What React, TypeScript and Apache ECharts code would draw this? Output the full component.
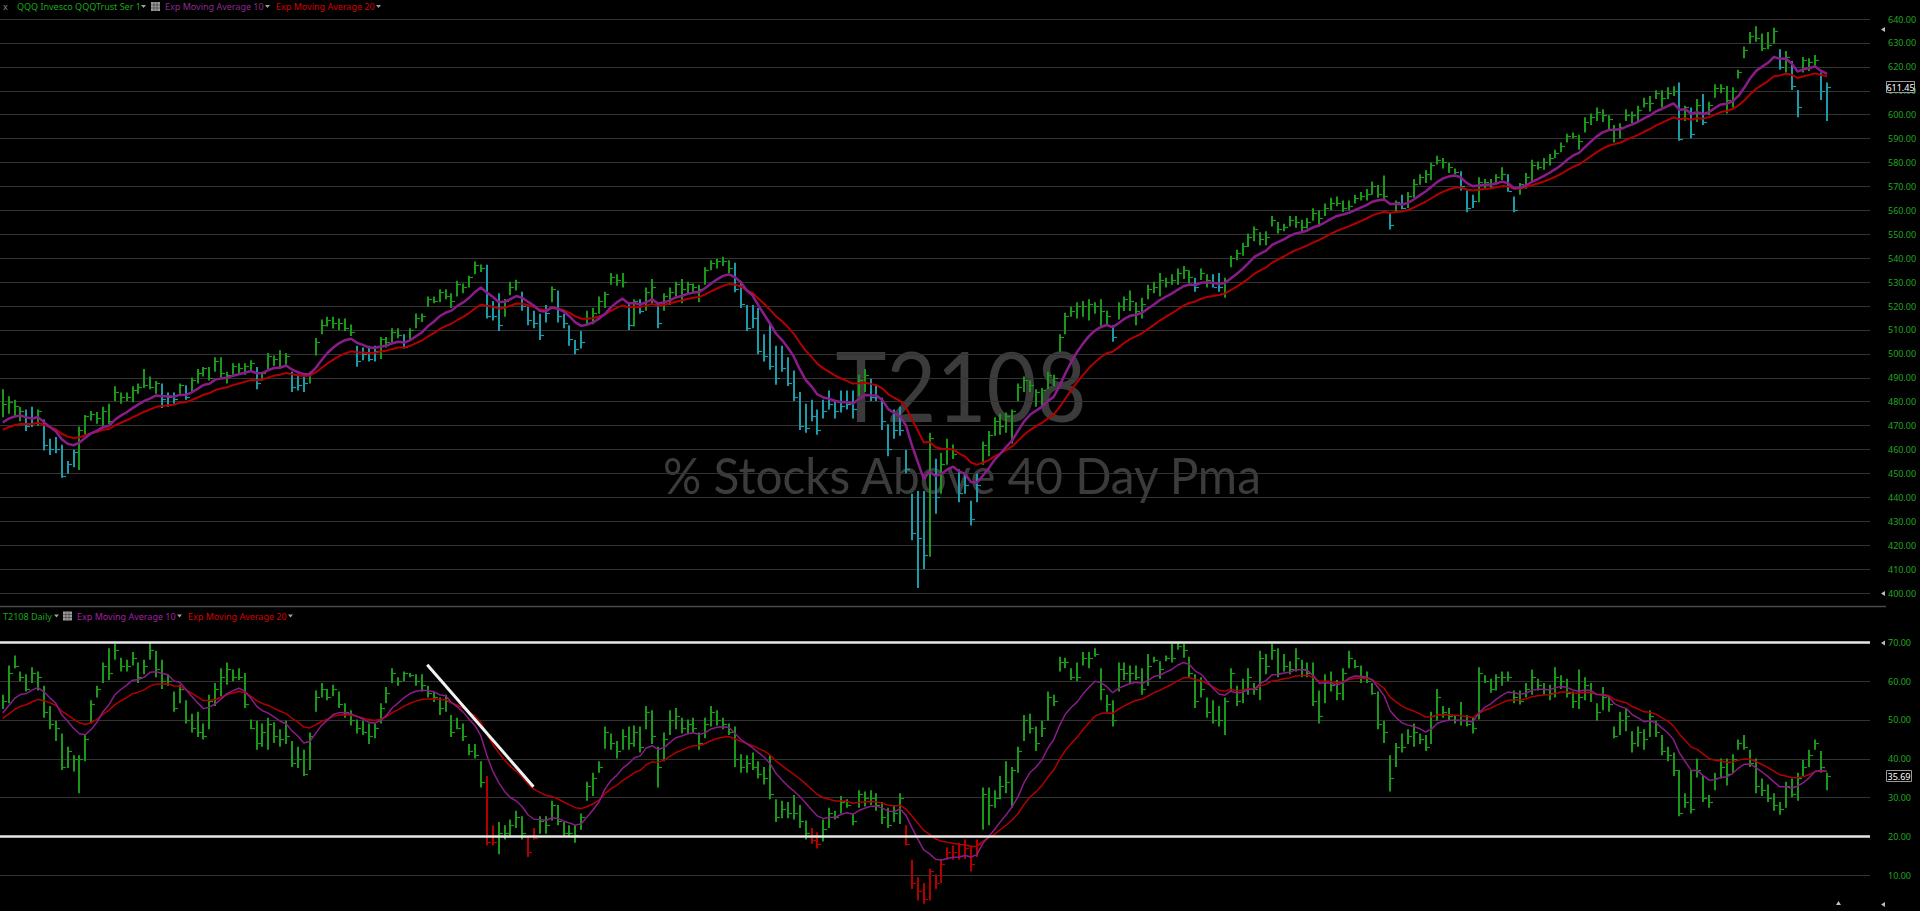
import React, { useEffect, useRef } from "react";
import * as echarts from "echarts";

// ---------- QQQ daily bars (high / low / close) ----------
const qqqHigh = [
  485.2,482.3,480.8,477.9,476.7,477.9,476.7,472.5,464.5,465.2,
  462.0,455.2,459.9,469.6,474.4,476.1,475.7,477.9,479.1,486.4,
  483.8,483.8,486.4,487.6,493.7,490.5,488.6,487.6,483.8,483.8,
  487.6,486.9,490.1,493.7,494.5,494.5,498.6,498.6,492.5,496.1,
  496.1,496.1,497.3,494.5,492.5,500.3,499.3,501.5,500.3,492.5,
  491.3,490.5,492.5,506.6,514.4,515.5,515.5,514.8,514.8,512.3,
  503.4,502.7,503.4,503.4,507.0,507.0,510.7,510.7,508.2,510.7,
  516.9,516.9,524.0,524.0,527.0,527.0,525.3,530.6,
  529.4,532.6,538.6,537.4,537.2,522.1,525.3,522.9,530.1,531.0,
  526.0,519.7,518.0,516.8,520.4,528.2,526.5,516.8,511.9,505.8,
  509.5,518.0,519.2,524.0,526.0,533.8,533.3,533.8,521.6,522.8,
  522.8,527.7,531.3,521.6,525.3,527.7,530.1,531.3,530.1,529.4,
  528.9,536.2,539.1,539.8,540.6,539.1,538.1,530.1,520.4,520.4,
  519.2,508.2,513.1,503.4,503.4,498.6,493.0,484.0,479.1,480.8,
  476.7,480.8,484.7,480.8,484.7,484.7,484.7,491.3,493.7,489.6,
  487.1,481.6,470.6,476.7,477.9,459.8,441.5,442.7,
  442.7,467.0,456.1,458.5,464.5,462.1,451.7,450.0,438.6,450.0,
  463.3,467.7,473.5,475.0,475.5,476.7,487.6,490.5,488.9,485.2,
  485.7,492.5,491.3,508.2,517.2,519.7,521.6,522.1,522.8,521.6,
  522.8,518.0,511.9,521.6,524.0,526.5,521.6,523.5,528.9,530.1,
  533.8,531.8,533.3,535.7,536.7,535.0,531.8,535.7,533.3,533.3,
  533.8,531.8,541.0,543.5,546.4,550.3,553.2,550.8,551.3,557.6,
  555.1,554.4,557.6,557.6,556.1,556.8,560.9,560.0,562.9,565.3,
  565.8,564.1,564.1,566.5,567.7,568.9,572.1,570.6,
  574.6,559.2,564.1,566.5,567.7,573.1,575.1,576.8,579.9,582.8,
  581.9,579.9,577.5,576.3,568.3,566.5,573.8,573.1,573.1,575.1,
  578.0,575.1,565.8,571.4,575.6,581.1,580.4,581.9,583.6,585.3,
  588.4,592.0,592.5,591.6,598.9,600.5,603.0,602.3,599.8,595.7,
  596.4,602.3,601.3,603.7,607.1,607.8,610.2,610.2,611.5,611.9,
  613.4,603.7,603.0,606.6,608.6,605.4,612.7,612.7,612.0,611.5,
  618.8,628.5,634.6,637.0,633.9,634.6,636.3,627.3,626.6,622.4,
  610.3,624.1,623.6,624.9,617.6,613.4,
];
const qqqLow = [
  473.5,475.0,473.5,471.8,467.7,469.4,469.9,459.6,457.7,458.4,
  448.2,449.9,452.6,451.4,466.4,472.0,470.8,469.9,470.6,480.3,
  479.1,480.3,479.8,483.3,485.7,485.2,483.3,477.4,477.9,479.1,
  482.3,480.8,484.0,487.6,490.5,488.9,492.5,490.1,487.6,491.3,
  491.3,491.3,492.5,485.2,488.9,493.7,494.9,493.7,495.4,484.0,
  484.7,484.0,487.6,499.3,508.2,511.4,510.6,510.0,509.5,507.5,
  494.6,497.3,496.8,496.8,497.8,502.7,504.6,506.5,502.2,505.8,
  510.7,513.3,519.7,521.1,521.6,522.8,519.2,524.0,
  525.3,527.7,533.3,534.2,514.8,513.9,509.5,515.5,524.5,526.5,
  518.0,511.9,510.7,505.8,513.1,521.6,513.1,510.7,503.4,499.8,
  502.2,511.9,512.4,516.8,519.2,528.9,528.5,527.7,510.0,511.4,
  516.8,518.0,520.4,510.7,518.0,520.4,524.0,521.1,525.3,525.3,
  521.6,528.9,535.0,535.7,536.7,533.8,525.8,519.2,509.5,510.7,
  499.8,496.8,493.3,487.1,492.5,486.5,480.3,468.2,467.0,471.8,
  466.2,473.0,476.7,473.0,475.5,476.7,473.0,482.3,484.0,480.3,
  480.3,468.2,457.2,464.5,465.7,450.1,422.1,402.1,
  410.0,415.2,433.1,441.5,453.6,456.0,437.9,441.5,428.2,437.9,
  453.6,457.2,465.8,466.2,467.0,462.5,480.3,484.0,484.0,477.9,
  477.9,485.2,486.4,500.9,508.2,515.5,514.8,515.5,513.9,516.8,
  510.7,512.4,505.1,514.4,517.9,517.9,511.9,514.8,522.8,525.3,
  524.0,527.7,528.9,528.9,531.3,529.4,526.0,530.9,527.7,527.7,
  526.0,523.5,536.2,539.1,541.0,544.7,547.1,545.4,545.4,553.2,
  550.3,551.3,553.2,552.7,551.3,552.4,555.6,553.2,557.6,560.0,
  561.7,559.3,560.0,562.9,564.1,564.1,566.5,565.3,
  564.1,552.0,559.2,560.5,561.0,565.3,570.7,571.4,572.6,579.2,
  577.5,575.6,575.1,568.3,559.2,561.0,563.4,569.0,569.0,570.7,
  572.6,567.8,559.2,566.5,569.0,571.4,577.0,577.0,578.7,581.9,
  584.3,588.4,590.1,585.3,592.5,595.7,597.4,596.9,594.0,588.4,
  590.1,597.4,596.4,596.9,603.0,601.3,606.6,603.0,606.6,607.8,
  589.1,597.4,590.1,596.9,595.7,599.8,607.1,609.0,600.5,603.0,
  615.1,623.6,629.7,630.5,626.6,627.3,629.7,618.8,617.6,610.3,
  598.9,617.6,618.3,620.0,606.1,597.4,
];
const qqqClose = [
  479,480,478,476,470,471,476,462,460,460,
  449,454,459,468,474,475,473,476,472,484,
  482,482,485,486,487,486,488,481,482,481,
  487,482,489,492,494,490,497,492,491,495,
  494,495,496,488,492,499,498,495,499,486,
  487,488,492,505,512,514,513,513,511,509,
  497,500,498,501,506,505,509,508,503,510,
  515,516,523,522,526,524,522,529,
  528,532,537,536,516,516,512,522,528,530,
  520,514,513,508,517,527,516,513,506,502,
  505,515,517,522,525,532,531,530,512,522,
  518,526,528,513,524,526,529,527,529,528,
  527,535,538,539,539,536,527,521,511,515,
  501,499,495,490,494,488,482,470,469,474,
  468,476,479,476,478,479,477,489,491,482,
  482,472,460,468,468,452,425,423,
  416,465,440,454,460,458,442,445,431,445,
  462,466,472,470,474,476,486,489,487,484,
  485,491,490,507,516,518,520,520,521,520,
  518,516,507,520,523,522,518,521,527,528,
  531,530,531,534,535,532,528,534,531,528,
  528,531,540,542,545,549,552,548,549,556,
  552,553,556,555,553,555,559,557,561,563,
  563,561,562,565,566,567,570,567,
  566,554,563.5,561,566,571,574,575,579,581,
  580,578,576,570,561,564,572,572,571,574,
  575,568,560,571,574,579,578,580,582,584,
  587,591,591,589,597,599,601,600,598,594,
  595,600,600,602,605,605,609,607,609,610,
  590,603,592,604,597,604,611,611,606,610,
  618,627,633,632,628,629,635,620,624,612,
  603,623,622,623,610,611.45,
];

// ---------- T2108 daily bars (high / low / close) ----------
const t2108High = [
  56.5,64.0,66.6,62.5,61.8,63.6,62.5,58.8,53.6,49.8,
  46.5,43.1,40.9,40.9,46.1,55.1,58.8,64.8,68.5,69.6,
  66.0,65.5,67.5,64.8,65.5,70.0,67.8,65.5,61.8,57.3,
  59.1,55.1,51.6,52.1,49.1,56.5,59.5,63.3,64.8,63.0,
  63.3,62.1,50.1,49.8,49.1,50.6,49.4,47.6,49.8,44.6,
  43.1,42.3,46.8,57.6,59.5,58.0,59.1,57.3,54.3,52.5,
  50.1,49.8,49.1,49.1,54.3,58.5,63.3,61.0,62.5,62.1,
  61.8,61.8,58.8,57.3,55.8,56.5,51.3,50.6,
  49.1,43.8,43.8,39.4,35.6,22.9,23.7,22.9,24.4,26.6,
  25.2,19.9,22.2,25.2,25.2,29.2,28.1,23.7,22.9,22.9,
  25.9,34.1,36.4,39.4,48.3,46.5,44.6,47.6,48.3,48.6,
  48.3,53.6,52.5,43.1,46.8,52.5,53.1,50.6,50.1,50.6,
  46.8,50.6,53.6,52.5,50.6,49.1,48.3,41.2,40.9,41.6,
  39.4,37.9,40.9,29.6,29.2,28.9,30.7,28.1,24.1,22.2,
  21.1,24.4,27.4,26.6,30.4,29.6,25.9,31.9,31.6,31.9,
  31.1,28.9,27.4,28.1,31.1,22.9,14.0,9.5,
  8.0,11.7,10.2,14.0,17.2,17.7,18.4,19.2,17.7,19.2,
  32.6,32.6,31.9,35.6,39.4,37.9,43.1,51.3,51.6,48.3,
  49.8,57.3,56.5,66.3,66.0,63.3,64.8,67.5,67.5,68.5,
  63.3,56.5,55.1,64.8,64.8,64.0,64.0,63.3,67.0,66.3,
  65.1,66.6,69.6,70.0,69.6,66.3,61.8,61.0,55.8,55.1,
  53.6,55.8,63.3,58.8,60.6,63.3,59.5,67.8,67.0,69.6,
  68.5,67.0,65.1,68.5,65.5,64.8,64.8,57.6,61.8,62.5,
  60.3,63.3,67.8,65.5,64.0,62.5,59.5,57.3,
  49.8,40.9,44.1,46.5,47.6,49.1,46.5,46.1,52.1,58.0,
  53.6,53.1,51.3,54.6,51.3,50.6,63.6,61.5,60.6,61.8,
  62.5,62.5,57.6,57.6,59.5,63.0,60.6,59.5,59.1,63.6,
  61.5,60.6,57.3,63.0,61.0,59.5,54.3,58.5,56.1,48.3,
  52.1,52.8,47.1,48.3,47.6,52.5,49.8,46.1,43.1,41.6,
  37.1,31.1,37.1,40.1,35.6,30.7,36.4,40.1,40.1,41.2,
  45.0,46.1,42.3,40.1,34.9,33.4,31.1,28.9,34.1,34.9,
  36.4,39.7,42.3,45.0,42.0,36.4,
];
const t2108Low = [
  52.8,54.3,63.3,60.0,57.3,59.5,57.6,50.6,47.6,44.6,
  37.1,37.6,36.7,31.1,39.4,49.1,55.8,59.5,60.3,65.5,
  62.5,62.5,64.0,59.5,61.8,65.5,61.0,58.0,58.8,52.1,
  54.3,49.1,46.8,45.6,45.0,47.6,53.6,56.1,59.1,60.0,
  60.3,53.1,47.6,42.3,43.1,42.3,44.1,43.1,43.8,37.9,
  37.6,35.6,37.1,52.1,55.8,55.1,56.1,53.1,50.6,48.6,
  46.5,46.1,43.8,45.3,49.1,54.3,59.5,58.8,60.0,61.0,
  58.8,57.3,55.8,54.6,51.3,52.1,45.6,47.6,
  44.6,40.9,40.1,32.6,17.7,17.7,15.4,19.2,19.9,22.2,
  19.2,14.7,19.2,20.7,20.7,24.1,22.9,19.9,19.9,18.4,
  21.7,29.2,30.4,36.4,42.6,42.3,40.1,42.3,42.3,43.1,
  41.6,47.6,43.8,32.6,39.4,46.1,47.6,46.5,46.5,46.8,
  42.3,45.3,48.3,48.6,47.6,46.1,37.9,36.4,36.4,37.1,
  34.9,33.4,29.6,23.7,24.7,24.7,24.4,22.2,19.2,18.1,
  16.9,18.7,22.2,24.4,25.9,27.4,22.9,27.4,27.7,28.1,
  26.6,23.2,22.2,23.7,23.2,17.7,6.5,3.5,
  2.7,3.5,6.5,8.0,14.0,14.0,14.0,14.2,11.0,14.7,
  21.7,22.9,27.4,29.6,31.1,27.4,36.4,44.6,46.5,42.0,
  45.6,49.8,53.6,62.5,63.3,60.3,60.0,64.0,63.3,66.3,
  55.1,52.1,48.3,57.3,60.3,59.5,60.3,56.5,58.8,64.8,
  60.6,65.1,64.8,68.1,66.0,61.0,53.1,55.8,50.6,49.1,
  48.3,46.1,57.3,53.6,54.3,56.5,56.5,55.1,61.8,65.5,
  61.0,62.5,61.8,62.5,61.0,61.0,53.6,49.1,54.3,57.3,
  55.1,55.1,63.3,63.3,59.5,59.5,56.5,47.6,
  44.1,31.6,37.9,41.6,43.8,43.1,43.8,42.0,43.8,49.8,
  50.6,49.8,49.1,48.6,48.3,46.5,50.1,59.5,57.0,57.6,
  58.8,60.0,54.3,54.0,55.8,56.5,57.6,56.5,55.1,55.8,
  58.0,55.8,53.1,52.8,55.1,54.6,49.8,52.5,52.1,45.3,
  46.1,47.1,41.6,43.1,42.3,45.6,45.6,40.9,39.4,35.6,
  25.2,27.4,25.9,35.2,28.9,27.4,31.9,34.9,33.1,36.4,
  42.3,42.3,37.9,31.1,30.4,28.9,26.6,25.6,27.4,30.1,
  29.2,35.6,37.9,42.3,36.4,31.9,
];
const t2108Close = [
  55,62,64,61,58,62,61,52,49,48,
  38,42,40,40,45,54,58,64,62,68,
  64,64,66,61,64,68,63,60,60,53,
  58,50,48,47,46,55,58,61,63,61,
  61,54,48,44,47,49,46,45,46,39,
  40,36,46,56,58,56,58,54,52,50,
  48,47,46,48,53,57,62,60,62,61.5,
  60,59,57,56,53,55,47,48,
  46,42,41,34,18.5,18.5,21,21,23,25,
  21,16,19.5,24,23,28,24,21,21,20.5,
  25,33,35,38,47,44,42,46,44,47,
  43,52,46,38,45,50,51,48,49,48,
  44,49,52,50,49,47,40,38,39,38,
  36,35,31,25,27,26,26,24,21,19,
  18,22,26,25,29,28,24,31,30,30,
  28,25,23,26,30,18,8,6,
  4,11,8,13,16,16,15,17,13,18,
  31,28,30,33,34,37,42,50,48,44,
  48,56,55,65,65,61,61,66,66,67,
  58,54,50,63,62,62,61,58,64,65.5,
  63,66,66,69,68,62,55,58,52,50,
  50,55,62,55,58,61,58,66,64,68,
  62,64,63,66,63,62,55,51,60,59,
  57,62,66,64,61,60,57,49,
  47,35,43,43,46,47,45,43,51,56,
  52,51,50,50,49,48,62,60,58,61,
  61,61,56,55,58,61,59,58,57,61,
  60,57,55,56,59,57,52,56,54,46,
  50,51,44,47,45,51,47,42,41,37,
  26,29,27,37,30,29,35,38,36,40,
  44,43,39,33,32,30,28,27,33,31,
  35,38,41,44,38,35.69,
];

// EMA values at the first visible bar
const qqqEma10Start = 471.3;
const qqqEma20Start = 468.2;
const t2108Ema10Start = 51.8;
const t2108Ema20Start = 50.4;

// Axis ticks
const qqqAxis = { min: 400, max: 640, step: 10 };
const t2108Axis = { min: 10, max: 70, step: 10 };

// Horizontal reference levels and the drawn trend line (bar index, value)
const t2108Levels = [70, 20];
const t2108TrendLine = [
  [71.9, 64.2],
  [89.9, 32.8],
];

// ---------- helpers ----------
function expMovingAverage(values: number[], period: number, start: number) {
  const k = 2 / (period + 1);
  const out: number[] = [];
  let e = start;
  values.forEach((v, i) => {
    e = i === 0 ? start : e + k * (v - e);
    out.push(Math.round(e * 100) / 100);
  });
  return out;
}

const GREEN = "#1a981a";
const CYAN = "#1c9aa8";
const BAR_RED = "#b00000";
const PURPLE = "#8a1c8a";
const EMA_RED = "#b30000";
const LABEL_GREEN = "#22a622";
const GRID = "#333333";
const FONT = '"Noto Sans", "DejaVu Sans", sans-serif';

const PLOT_RIGHT = 1870;
const FIRST_BAR_X = 2.7;
const BAR_STEP = 5.904;
const X_MIN = -FIRST_BAR_X / BAR_STEP;
const X_MAX = X_MIN + PLOT_RIGHT / BAR_STEP;

export default function App() {
  const ref = useRef<HTMLDivElement>(null);

  useEffect(() => {
    if (!ref.current) return;
    const chart = echarts.init(ref.current, null, { renderer: "svg" });

    const n = qqqClose.length;
    const qqqEma10 = expMovingAverage(qqqClose, 10, qqqEma10Start);
    const qqqEma20 = expMovingAverage(qqqClose, 20, qqqEma20Start);
    const tEma10 = expMovingAverage(t2108Close, 10, t2108Ema10Start);
    const tEma20 = expMovingAverage(t2108Close, 20, t2108Ema20Start);

    const qqqColors = qqqClose.map((c, i) => (c >= qqqEma10[i] ? GREEN : CYAN));
    const tColors = t2108Close.map((c) => (c < 20 ? BAR_RED : GREEN));

    const qqqData = qqqClose.map((c, i) => [i, qqqHigh[i], qqqLow[i], c]);
    const tData = t2108Close.map((c, i) => [i, t2108High[i], t2108Low[i], c]);

    const barRender = (colors: string[]) => (params: any, api: any) => {
      const i = api.value(0);
      const hi = api.coord([i, api.value(1)]);
      const lo = api.coord([i, api.value(2)]);
      const cl = api.coord([i, api.value(3)]);
      const x = Math.round(hi[0]);
      const cy = Math.round(cl[1]) + 0.5;
      const color = colors[params.dataIndex];
      return {
        type: "group",
        children: [
          {
            type: "line",
            shape: { x1: x, y1: hi[1], x2: x, y2: lo[1] },
            style: { stroke: color, lineWidth: 2 },
          },
          {
            type: "line",
            shape: { x1: x + 1, y1: cy, x2: x + 4, y2: cy },
            style: { stroke: color, lineWidth: 1.2 },
          },
        ],
      };
    };

    const lastRender = (width: number, decimals: number) => (params: any, api: any) => {
      const v = api.value(1);
      const p = api.coord([api.value(0), v]);
      const y = Math.round(p[1]);
      const x0 = 1886.5;
      return {
        type: "group",
        children: [
          {
            type: "rect",
            shape: { x: x0, y: y - 5.5, width, height: 11 },
            style: { fill: "#000", stroke: "#9a9a9a", lineWidth: 1 },
          },
          {
            type: "text",
            style: {
              x: x0 + width / 2,
              y: y + 0.5,
              text: v.toFixed(decimals),
              fill: "#ffffff",
              font: `9px ${FONT}`,
              align: "center",
              verticalAlign: "middle",
            },
          },
        ],
      };
    };

    const yAxisBase = (gridIndex: number, ax: { min: number; max: number; step: number }) => ({
      type: "value",
      gridIndex,
      position: "right",
      min: ax.min,
      max: ax.max,
      interval: ax.step,
      axisLine: { show: false },
      axisTick: { show: false },
      splitLine: { show: true, lineStyle: { color: GRID, width: 1 } },
      axisLabel: {
        color: LABEL_GREEN,
        fontSize: 9,
        fontFamily: FONT,
        margin: 18,
        formatter: (v: number) => v.toFixed(2),
      },
    });

    const tri = (pts: number[][], fill = "#bdbdbd") => ({
      type: "polygon",
      shape: { points: pts },
      style: { fill },
      silent: true,
    });

    const legendIcon = (x: number, y: number) => ({
      type: "group",
      x,
      y,
      silent: true,
      children: [
        { type: "rect", shape: { x: 0, y: 0, width: 9, height: 9 }, style: { fill: "#9c9c9c" } },
        { type: "line", shape: { x1: 0, y1: 3, x2: 9, y2: 3 }, style: { stroke: "#5a5a5a", lineWidth: 1 } },
        { type: "line", shape: { x1: 0, y1: 6, x2: 9, y2: 6 }, style: { stroke: "#5a5a5a", lineWidth: 1 } },
        { type: "line", shape: { x1: 3, y1: 0, x2: 3, y2: 9 }, style: { stroke: "#5a5a5a", lineWidth: 1 } },
        { type: "line", shape: { x1: 6, y1: 0, x2: 6, y2: 9 }, style: { stroke: "#5a5a5a", lineWidth: 1 } },
      ],
    });

    const legendText = (x: number, y: number, text: string, fill: string) => ({
      type: "text",
      x,
      y,
      silent: true,
      style: {
        text,
        fill,
        font: `9px ${FONT}`,
        textAlign: "left",
        textVerticalAlign: "middle",
      },
    });

    const down = (x: number, y: number) => tri([[x, y], [x + 5, y], [x + 2.5, y + 3]], "#a0a0a0");

    const option: any = {
      animation: false,
      backgroundColor: "#000000",
      grid: [
        { left: 0, right: 1920 - PLOT_RIGHT, top: 19, height: 574 },
        { left: 0, right: 1920 - PLOT_RIGHT, top: 642.3, height: 233 },
      ],
      xAxis: [
        { type: "value", gridIndex: 0, min: X_MIN, max: X_MAX, show: false },
        { type: "value", gridIndex: 1, min: X_MIN, max: X_MAX, show: false },
      ],
      yAxis: [yAxisBase(0, qqqAxis), yAxisBase(1, t2108Axis)],
      graphic: [
        {
          type: "text",
          x: 961,
          y: 384,
          z: 0,
          scaleX: 0.89,
          silent: true,
          style: {
            text: "T2108",
            fill: "#3b3b3b",
            font: `400 97px Lato, ${FONT}`,
            textAlign: "center",
            textVerticalAlign: "middle",
          },
        },
        {
          type: "text",
          x: 962,
          y: 475,
          z: 0,
          scaleX: 0.955,
          silent: true,
          style: {
            text: "% Stocks Above 40 Day Pma",
            fill: "#3b3b3b",
            font: `400 50px Lato, ${FONT}`,
            textAlign: "center",
            textVerticalAlign: "middle",
          },
        },
        // panel separator
        {
          type: "line",
          silent: true,
          shape: { x1: 0, y1: 606.5, x2: 1886, y2: 606.5 },
          style: { stroke: "#4a4a4a", lineWidth: 1.5 },
        },
        // top legend
        legendText(3, 6.5, "x", "#8a8a8a"),
        legendText(17, 6.5, "QQQ Invesco QQQTrust Ser 1", "#1aa81a"),
        down(141, 5),
        legendIcon(151, 2),
        legendText(165, 6.5, "Exp Moving Average 10", "#8e2a8e"),
        down(265, 5),
        legendText(276, 6.5, "Exp Moving Average 20", "#d40000"),
        down(376, 5),
        // bottom legend
        legendText(3, 616, "T2108 Daily", "#1aa81a"),
        down(54, 614.5),
        legendIcon(63, 611.5),
        legendText(77, 616, "Exp Moving Average 10", "#a020a0"),
        down(177, 614.5),
        legendText(188, 616, "Exp Moving Average 20", "#d40000"),
        down(288, 614.5),
        // scale handles
        tri([[1881, 29.5], [1885, 27], [1885, 32]]),
        tri([[1881, 593.5], [1885, 591], [1885, 596]]),
        tri([[1881, 643], [1885, 640.5], [1885, 645.5]]),
        tri([[1881, 904.5], [1885, 902], [1885, 907]]),
        tri([[1836, 905], [1838.5, 901], [1841, 905]]),
      ],
      series: [
        {
          type: "custom",
          name: "QQQ",
          xAxisIndex: 0,
          yAxisIndex: 0,
          clip: false,
          z: 2,
          renderItem: barRender(qqqColors),
          data: qqqData,
        },
        {
          type: "line",
          name: "EMA20",
          xAxisIndex: 0,
          yAxisIndex: 0,
          showSymbol: false,
          symbol: "none",
          clip: false,
          z: 3,
          lineStyle: { color: EMA_RED, width: 2 },
          data: qqqEma20.map((v, i) => [i, v]),
        },
        {
          type: "line",
          name: "EMA10",
          xAxisIndex: 0,
          yAxisIndex: 0,
          showSymbol: false,
          symbol: "none",
          clip: false,
          z: 4,
          lineStyle: { color: PURPLE, width: 2.5 },
          data: qqqEma10.map((v, i) => [i, v]),
        },
        {
          type: "custom",
          name: "T2108",
          xAxisIndex: 1,
          yAxisIndex: 1,
          clip: false,
          z: 2,
          renderItem: barRender(tColors),
          data: tData,
        },
        {
          type: "line",
          name: "T2108 EMA20",
          xAxisIndex: 1,
          yAxisIndex: 1,
          showSymbol: false,
          symbol: "none",
          clip: false,
          z: 3,
          lineStyle: { color: EMA_RED, width: 1.5 },
          data: tEma20.map((v, i) => [i, v]),
        },
        {
          type: "line",
          name: "T2108 EMA10",
          xAxisIndex: 1,
          yAxisIndex: 1,
          showSymbol: false,
          symbol: "none",
          clip: false,
          z: 4,
          lineStyle: { color: PURPLE, width: 1.5 },
          data: tEma10.map((v, i) => [i, v]),
          markLine: {
            silent: true,
            symbol: ["none", "none"],
            label: { show: false },
            animation: false,
            data: [
              ...t2108Levels.map((lv) => ({
                yAxis: lv,
                lineStyle: { color: "#e8e8e8", width: 2.5, type: "solid" },
              })),
              [
                {
                  coord: t2108TrendLine[0],
                  lineStyle: { color: "#f2f2f2", width: 3, type: "solid" },
                },
                { coord: t2108TrendLine[1] },
              ],
            ],
          },
        },
        {
          type: "custom",
          name: "QQQ last",
          xAxisIndex: 0,
          yAxisIndex: 0,
          clip: false,
          z: 6,
          renderItem: lastRender(28, 2),
          data: [[n - 1, qqqClose[n - 1]]],
        },
        {
          type: "custom",
          name: "T2108 last",
          xAxisIndex: 1,
          yAxisIndex: 1,
          clip: false,
          z: 6,
          renderItem: lastRender(25, 2),
          data: [[n - 1, t2108Close[n - 1]]],
        },
      ],
    };

    chart.setOption(option);
    return () => chart.dispose();
  }, []);

  return (
    <div
      ref={ref}
      style={{ position: "fixed", left: 0, top: 0, width: 1920, height: 911, background: "#000" }}
    />
  );
}
